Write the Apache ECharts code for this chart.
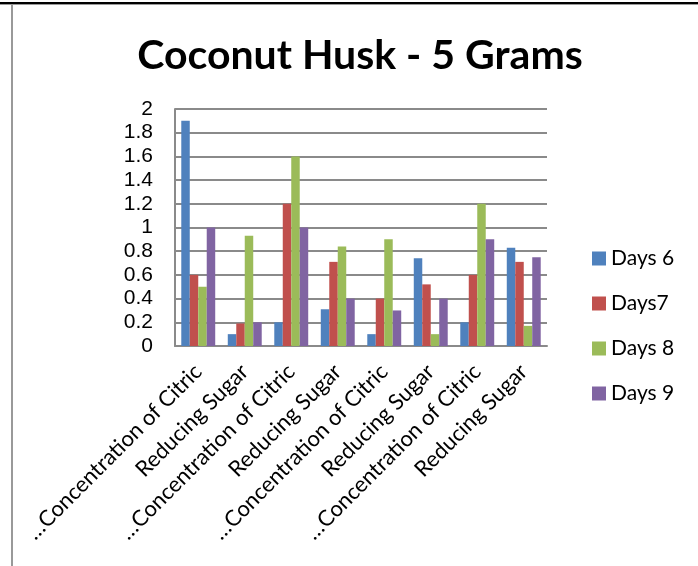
<!DOCTYPE html>
<html>
<head>
<meta charset="utf-8">
<script src="https://cdn.jsdelivr.net/npm/echarts@6/dist/echarts.min.js"></script>
<style>
  html, body { margin: 0; padding: 0; background: #fff; }
  #chart { width: 698px; height: 566px; }
</style>
</head>
<body>
<div id="chart"></div>
<script>
// Categories along the x axis
var categories = [
  '…Concentration of Citric', 'Reducing Sugar',
  '…Concentration of Citric', 'Reducing Sugar',
  '…Concentration of Citric', 'Reducing Sugar',
  '…Concentration of Citric', 'Reducing Sugar'
];

// Series names and values
var seriesNames = ['Days 6', 'Days7', 'Days 8', 'Days 9'];
var days6 = [1.9, 0.1, 0.2, 0.31, 0.1, 0.74, 0.2, 0.83];
var days7 = [0.6, 0.19, 1.2, 0.71, 0.4, 0.52, 0.6, 0.71];
var days8 = [0.5, 0.93, 1.6, 0.84, 0.9, 0.1, 1.2, 0.17];
var days9 = [1.0, 0.2, 1.0, 0.4, 0.3, 0.4, 0.9, 0.75];

var colors = ['#4F81BD', '#C0504D', '#9BBB59', '#8064A2'];
var values = [days6, days7, days8, days9];

var chart = echarts.init(document.getElementById('chart'));

var series = seriesNames.map(function (name, i) {
  return {
    name: name,
    type: 'bar',
    data: values[i],
    barGap: '0%',
    barCategoryGap: '27%',
    itemStyle: { color: colors[i] }
  };
});

chart.setOption({
  animation: false,
  color: colors,
  title: {
    text: 'Coconut Husk - 5 Grams',
    left: 355,
    textAlign: 'center',
    top: 30,
    textStyle: { fontFamily: 'Lato', fontWeight: 'bold', fontSize: 41, color: '#000' }
  },
  legend: {
    orient: 'vertical',
    left: 587,
    top: 243,
    itemWidth: 14,
    itemHeight: 14,
    itemGap: 24,
    icon: 'rect',
    textStyle: { fontFamily: 'Lato', fontSize: 21, color: '#000' },
    data: seriesNames
  },
  grid: { left: 175, top: 109, width: 372, height: 237, containLabel: false },
  xAxis: {
    type: 'category',
    data: categories,
    axisLine: { show: true, lineStyle: { color: '#8a8a8a', width: 2 } },
    axisTick: { show: false },
    axisLabel: {
      interval: 0,
      rotate: 45,
      margin: 22,
      fontFamily: 'Lato',
      fontSize: 22,
      color: '#000'
    }
  },
  yAxis: {
    type: 'value',
    min: 0,
    max: 2,
    interval: 0.2,
    axisLine: { show: true, lineStyle: { color: '#8a8a8a', width: 2 } },
    axisTick: { show: false },
    splitLine: { show: true, lineStyle: { color: '#8a8a8a', width: 2 } },
    axisLabel: {
      margin: 22,
      fontFamily: 'Liberation Sans',
      fontSize: 21,
      color: '#000',
      formatter: function (v) { return String(Math.round(v * 10) / 10); }
    }
  },
  graphic: [
    { type: 'rect', shape: { x: 0, y: 2, width: 698, height: 2 }, style: { fill: '#000' } },
    { type: 'rect', shape: { x: 0, y: 4, width: 698, height: 1 }, style: { fill: '#999' } },
    { type: 'rect', shape: { x: 11, y: 4, width: 2, height: 562 }, style: { fill: '#999' } }
  ],
  series: series
});
</script>
</body>
</html>
